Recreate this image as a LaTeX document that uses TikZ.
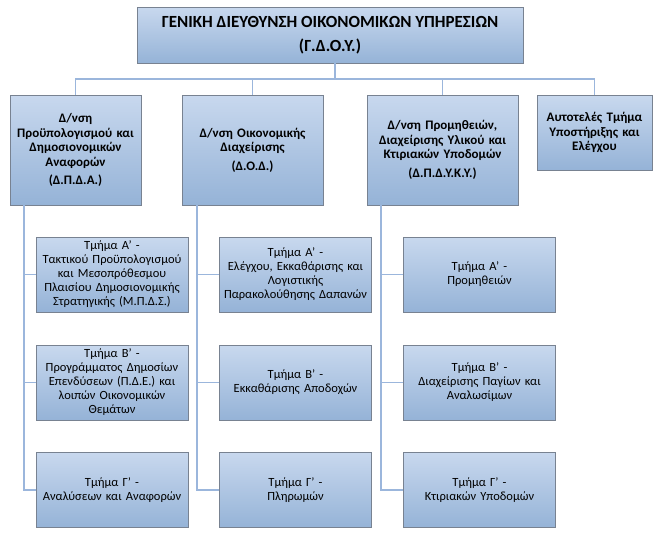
\documentclass[tikz,border=0pt]{standalone}
\usepackage{fontspec}
\setmainfont{Carlito}
\usetikzlibrary{positioning}
\definecolor{boxtop}{RGB}{200,216,238}
\definecolor{boxbot}{RGB}{149,179,215}
\definecolor{boxline}{RGB}{120,130,145}
\definecolor{linkblue}{RGB}{155,182,220}
\tikzset{
  unitbox/.style={draw=boxline, top color=boxtop, bottom color=boxbot,
    inner sep=1pt, align=center, minimum width=152pt, minimum height=75pt, text width=150pt,
    font=\fontsize{12.5}{14}\selectfont},
  dirbox/.style={draw=boxline, top color=boxtop, bottom color=boxbot,
    inner sep=1pt, align=center, minimum height=110pt, font=\bfseries\fontsize{13}{14.5}\selectfont},
  link/.style={draw=linkblue, line width=1.6pt}
}
\begin{document}
\begin{tikzpicture}[x=1pt,y=-1pt]
  \useasboundingbox (0,0) rectangle (658,533);
  % top
  \node[dirbox, minimum width=386pt, minimum height=56pt, font=\bfseries\fontsize{17}{24}\selectfont]
    (gdoy) at (330,35) {ΓΕΝΙΚΗ ΔΙΕΥΘΥΝΣΗ ΟΙΚΟΝΟΜΙΚΩΝ ΥΠΗΡΕΣΙΩΝ\\(Γ.Δ.Ο.Υ.)};
  % directorates
  \node[dirbox, minimum width=131pt, text width=129pt] (dpda) at (75.5,150)
    {Δ/νση\\Προϋπολογισμού και\\Δημοσιονομικών\\Αναφορών\\[4pt](Δ.Π.Δ.Α.)};
  \node[dirbox, minimum width=141pt, text width=139pt] (dod) at (252.5,150)
    {Δ/νση Οικονομικής\\Διαχείρισης\\[4pt](Δ.Ο.Δ.)};
  \node[dirbox, minimum width=151pt, text width=149pt] (dpdyky) at (442.5,150)
    {Δ/νση Προμηθειών,\\Διαχείρισης Υλικού και\\Κτιριακών Υποδομών\\[4pt](Δ.Π.Δ.Υ.Κ.Υ.)};
  \node[dirbox, minimum width=115pt, minimum height=75pt, text width=113pt] (atye) at (594.5,132.5)
    {Αυτοτελές Τμήμα\\Υποστήριξης και\\Ελέγχου};
  % departments
  \node[unitbox] (a1) at (112,274.5) {Τμήμα Α' -\\Τακτικού Προϋπολογισμού\\και Μεσοπρόθεσμου\\Πλαισίου Δημοσιονομικής\\Στρατηγικής (Μ.Π.Δ.Σ.)};
  \node[unitbox] (a2) at (112,382.5) {Τμήμα Β' -\\Προγράμματος Δημοσίων\\Επενδύσεων (Π.Δ.Ε.) και\\λοιπών Οικονομικών\\Θεμάτων};
  \node[unitbox] (a3) at (112,490) {Τμήμα Γ' -\\Αναλύσεων και Αναφορών};
  \node[unitbox] (b1) at (295.5,274.5) {Τμήμα Α' -\\Ελέγχου, Εκκαθάρισης και\\Λογιστικής\\Παρακολούθησης Δαπανών};
  \node[unitbox] (b2) at (295.5,382.5) {Τμήμα Β' -\\Εκκαθάρισης Αποδοχών};
  \node[unitbox] (b3) at (295.5,490) {Τμήμα Γ' -\\Πληρωμών};
  \node[unitbox] (c1) at (479.5,274.5) {Τμήμα Α' -\\Προμηθειών};
  \node[unitbox] (c2) at (479.5,382.5) {Τμήμα Β' -\\Διαχείρισης Παγίων και\\Αναλωσίμων};
  \node[unitbox] (c3) at (479.5,490) {Τμήμα Γ' -\\Κτιριακών Υποδομών};
  % connectors
  \coordinate (bus) at (335,79);
  \draw[link] (gdoy.south -| bus) -- (bus);
  \draw[link] (dpda.north) |- (bus) -| (atye.north);
  \draw[link] (dod.north) -- (dod.north |- bus);
  \draw[link] (dpdyky.north) -- (dpdyky.north |- bus);
  \foreach \dir/\name/\lx in {dpda/a/24, dod/b/197, dpdyky/c/381}{
    \draw[link] (\dir.south -| \lx,0) |- (\name3.west);
    \draw[link] (\name1.west -| \lx,0) -- (\name1.west);
    \draw[link] (\name2.west -| \lx,0) -- (\name2.west);
  }
\end{tikzpicture}
\end{document}
